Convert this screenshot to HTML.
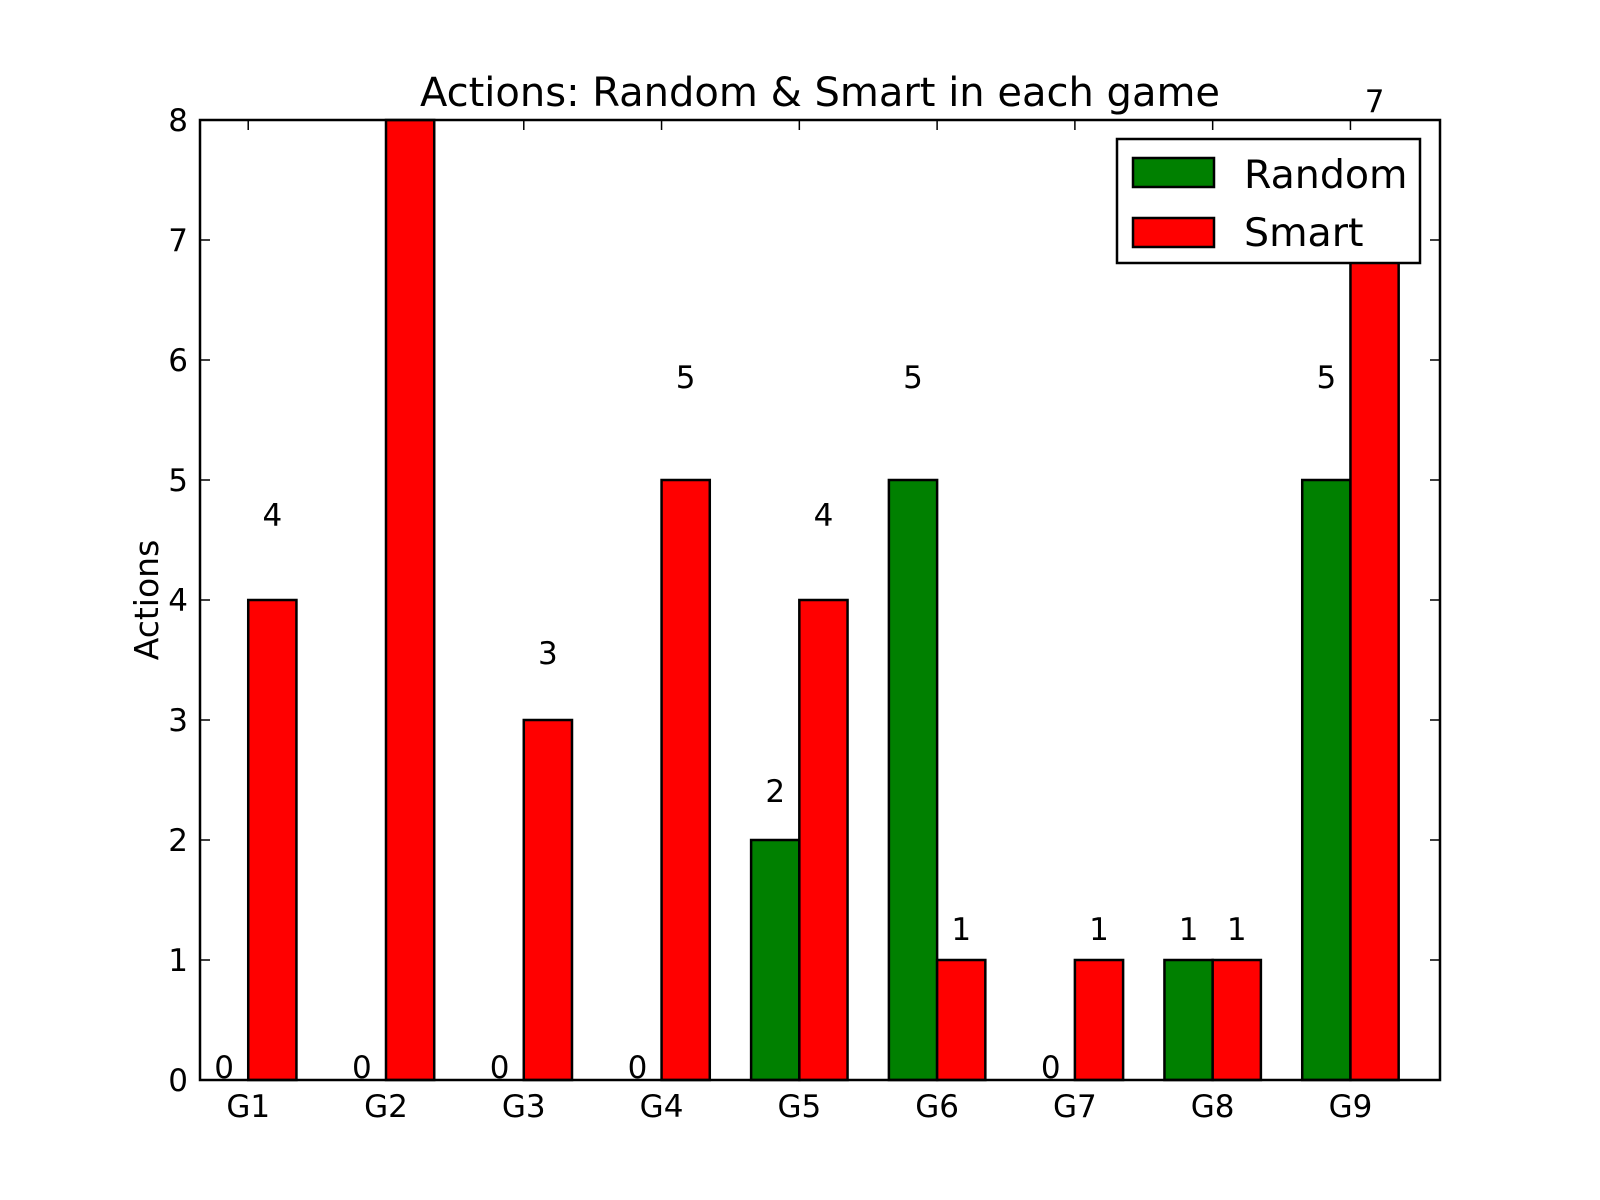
<!DOCTYPE html>
<html><head><meta charset="utf-8"><style>body{margin:0;background:#fff}svg{display:block}text{font-family:"DejaVu Sans","Liberation Sans",sans-serif;fill:#000}</style></head>
<body>
<svg id="chart" width="1600" height="1200" viewBox="0 0 1600 1200">
<rect width="1600" height="1200" fill="#fff"/>
<g id="bars"></g><g id="labels"></g><g id="ticks"></g>
<rect x="200" y="120" width="1240" height="960" fill="none" stroke="#000" stroke-width="2.5"/>
<text x="820" y="106" font-size="40" text-anchor="middle">Actions: Random &amp; Smart in each game</text>
<text transform="translate(158,600) rotate(-90)" font-size="33" text-anchor="middle">Actions</text>
<g>
<rect x="1117" y="139" width="303" height="124" fill="#fff" stroke="#000" stroke-width="2.5"/>
<g><rect x="1133" y="158" width="81" height="29" fill="#008000" stroke="#000" stroke-width="2.5"/><text x="1244" y="188" font-size="39.5">Random</text></g>
<g><rect x="1133" y="218" width="81" height="29" fill="#ff0000" stroke="#000" stroke-width="2.5"/><text x="1244" y="246" font-size="39.5">Smart</text></g>
</g>
</svg>
<script>
const categories=["G1","G2","G3","G4","G5","G6","G7","G8","G9"];
const randomVals=[0,0,0,0,2,5,0,1,5];
const smartVals=[4,8,3,5,4,1,1,1,7];
const yTicks=[0,1,2,3,4,5,6,7,8];
const NS="http://www.w3.org/2000/svg";
const x=v=>200+v*(1240/9);
const y=v=>1080-v*120;
const bw=0.35;
function mk(tag,attrs,parent){const e=document.createElementNS(NS,tag);for(const k in attrs)e.setAttribute(k,attrs[k]);document.getElementById(parent).appendChild(e);return e;}
[[randomVals,0,"#008000","random"],[smartVals,bw,"#ff0000","smart"]].forEach(([vals,off,col,nm])=>{
vals.forEach((v,i)=>{
 const b=mk("rect",{x:x(i+off),y:y(v),width:x(i+off+bw)-x(i+off),height:y(0)-y(v),fill:col,stroke:"#000","stroke-width":2.5},"bars");
 
 
 const t=mk("text",{x:x(i+off+bw/2),y:y(v*1.15)-2,"font-size":31,"text-anchor":"middle"},"labels");
 t.textContent=v;
 
 
});});
categories.forEach((c,i)=>{
 const tx=x(i+bw);
 mk("line",{x1:tx,x2:tx,y1:1080,y2:1070,stroke:"#000","stroke-width":1.5},"ticks");
 mk("line",{x1:tx,x2:tx,y1:120,y2:130,stroke:"#000","stroke-width":1.5},"ticks");
 const t=mk("text",{x:tx,y:1117,"font-size":31,"text-anchor":"middle"},"ticks");
 t.textContent=c;
 
 
});
yTicks.forEach(v=>{
 mk("line",{x1:200,x2:210,y1:y(v),y2:y(v),stroke:"#000","stroke-width":1.5},"ticks");
 mk("line",{x1:1440,x2:1430,y1:y(v),y2:y(v),stroke:"#000","stroke-width":1.5},"ticks");
 const t=mk("text",{x:188,y:y(v)+11,"font-size":31,"text-anchor":"end"},"ticks");
 t.textContent=v;
 
 
});
</script>
</body></html>
